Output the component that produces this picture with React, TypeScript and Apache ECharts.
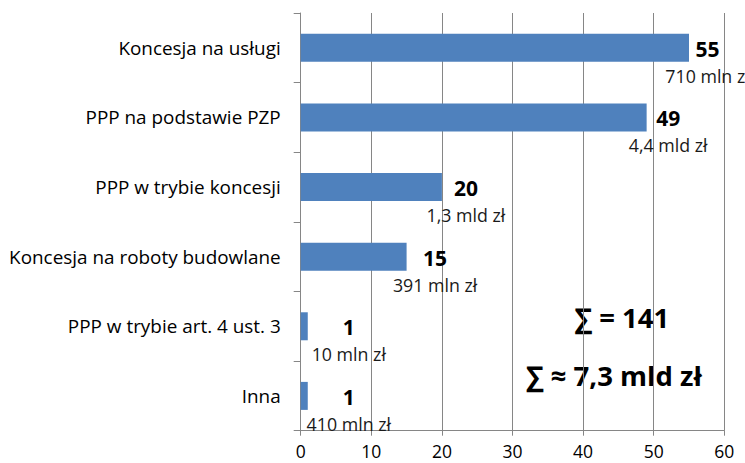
import React, { useEffect, useRef } from "react";
import * as echarts from "echarts";

const categories = [
  "Koncesja na usługi",
  "PPP na podstawie PZP",
  "PPP w trybie koncesji",
  "Koncesja na roboty budowlane",
  "PPP w trybie art. 4 ust. 3",
  "Inna",
];
const counts = [55, 49, 20, 15, 1, 1];
const amounts = ["710 mln zł", "4,4 mld zł", "1,3 mld zł", "391 mln zł", "10 mln zł", "410 mln zł"];
const totalCountText = "∑ = 141";
const totalAmountText = "∑ ≈ 7,3 mld zł";
const xMin = 0;
const xMax = 60;
const xInterval = 10;

// label layout nudges (horizontal distance of label centre from bar end)
const labelShift = [18.5, 21.5, 24, 28.5, 41, 41];

const FONT = "'Open Sans', 'Noto Sans', sans-serif";

export default function App() {
  const ref = useRef<HTMLDivElement>(null);
  useEffect(() => {
    document.body.style.margin = "0";
    if (!ref.current) return;
    const chart = echarts.init(ref.current, undefined, { renderer: "svg" });
    chart.setOption({
      animation: false,
      backgroundColor: "#ffffff",
      grid: { left: 300.7, right: 20.7, top: 13, bottom: 32.3, containLabel: false },
      xAxis: {
        type: "value",
        min: xMin,
        max: xMax,
        interval: xInterval,
        axisLine: { show: true, lineStyle: { color: "#868686", width: 1 } },
        axisTick: { show: true, length: 5, lineStyle: { color: "#868686" } },
        splitLine: { show: true, lineStyle: { color: "#868686", width: 1 } },
        axisLabel: { color: "#000", fontSize: 17.5, lineHeight: 18, fontFamily: FONT, margin: 11 },
      },
      yAxis: {
        type: "category",
        data: categories,
        inverse: true,
        axisLine: { show: true, lineStyle: { color: "#868686", width: 1 } },
        axisTick: { show: true, length: 7, lineStyle: { color: "#868686" } },
        axisLabel: { color: "#000", fontSize: 18.9, fontFamily: FONT, margin: 20 },
      },
      series: [
        {
          type: "bar",
          barWidth: 28,
          itemStyle: { color: "#4F81BD" },
          data: counts.map((v, i) => ({
            value: v,
            label: {
              show: true,
              position: "right",
              distance: 0,
              align: "center",
              offset: [labelShift[i], 14.5],
              formatter: () => `{a|${v}}\n{b|${amounts[i]}}`,
              rich: {
                a: { fontSize: 21, fontWeight: "bold", fontFamily: FONT, color: "#000", lineHeight: 27, align: "center" },
                b: { fontSize: 17.8, fontFamily: FONT, color: "#1a1a1a", lineHeight: 27, align: "center" },
              },
            },
          })),
        },
      ],
      graphic: [
        {
          type: "text",
          x: 622,
          y: 317,
          style: {
            text: totalCountText,
            fontSize: 27.5,
            fontWeight: "bold",
            fontFamily: FONT,
            fill: "#000",
            align: "center",
            verticalAlign: "middle",
          },
        },
        {
          type: "text",
          x: 614,
          y: 375,
          style: {
            text: totalAmountText,
            fontSize: 27.5,
            fontWeight: "bold",
            fontFamily: FONT,
            fill: "#000",
            align: "center",
            verticalAlign: "middle",
          },
        },
      ],
    });
    return () => chart.dispose();
  }, []);
  return <div ref={ref} style={{ width: 745, height: 463 }} />;
}
